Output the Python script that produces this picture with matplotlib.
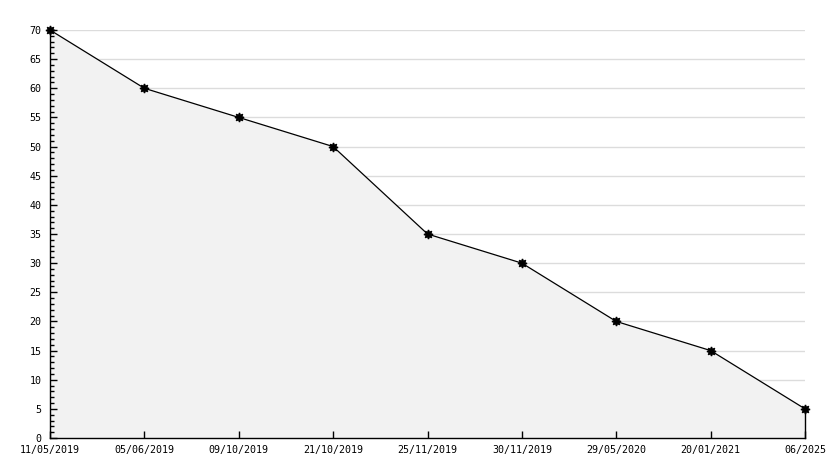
import matplotlib
matplotlib.use("Agg")
import matplotlib.pyplot as plt
from matplotlib.ticker import MultipleLocator

plt.rcParams["font.family"] = ["DejaVu Sans Mono", "DejaVu Sans"]

categories = ["11/05/2019", "05/06/2019", "09/10/2019", "21/10/2019", "25/11/2019",
              "30/11/2019", "29/05/2020", "20/01/2021", "06/2025"]
values = [70, 60, 55, 50, 35, 30, 20, 15, 5]
grid_levels = [5, 10, 15, 20, 25, 30, 35, 40, 45, 50, 55, 60, 65, 70]

fig = plt.figure(figsize=(8.34, 4.68), dpi=100)
ax = fig.add_axes([50/834, 30/468, 755/834, 408/468])
x = list(range(len(categories)))

for g in grid_levels:
    ax.axhline(g, color="#dcdcdc", linewidth=1, zorder=0.2)
ax.fill_between(x, values, 0, color="#f2f2f2", linewidth=0, zorder=1)
ax.plot(x, values, color="black", linewidth=0.9, zorder=3, clip_on=False,
        marker=(8, 1, 0), markersize=6.5, markerfacecolor="black", markeredgecolor="black")

ax.set_xlim(0, len(categories) - 1)
ax.set_ylim(0, 70)
ax.set_xticks(x)
ax.set_xticklabels(categories)
ax.yaxis.set_major_locator(MultipleLocator(5))
ax.yaxis.set_minor_locator(MultipleLocator(1))
ax.set_axisbelow(False)

ax.spines["top"].set_visible(False)
ax.spines["right"].set_bounds(0, values[-1])
for s in ["left", "bottom", "right"]:
    ax.spines[s].set_linewidth(1)

ax.tick_params(axis="y", which="major", direction="in", length=5, width=1, labelsize=7.2, pad=6)
ax.tick_params(axis="y", which="minor", direction="in", length=3, width=1)
ax.tick_params(axis="x", which="major", direction="in", length=5, width=1, labelsize=7.2, pad=5)
ax.tick_params(right=False, top=False)
ax.tick_params(axis="y", which="minor", right=False)

fig.savefig("out.png", dpi=100)
